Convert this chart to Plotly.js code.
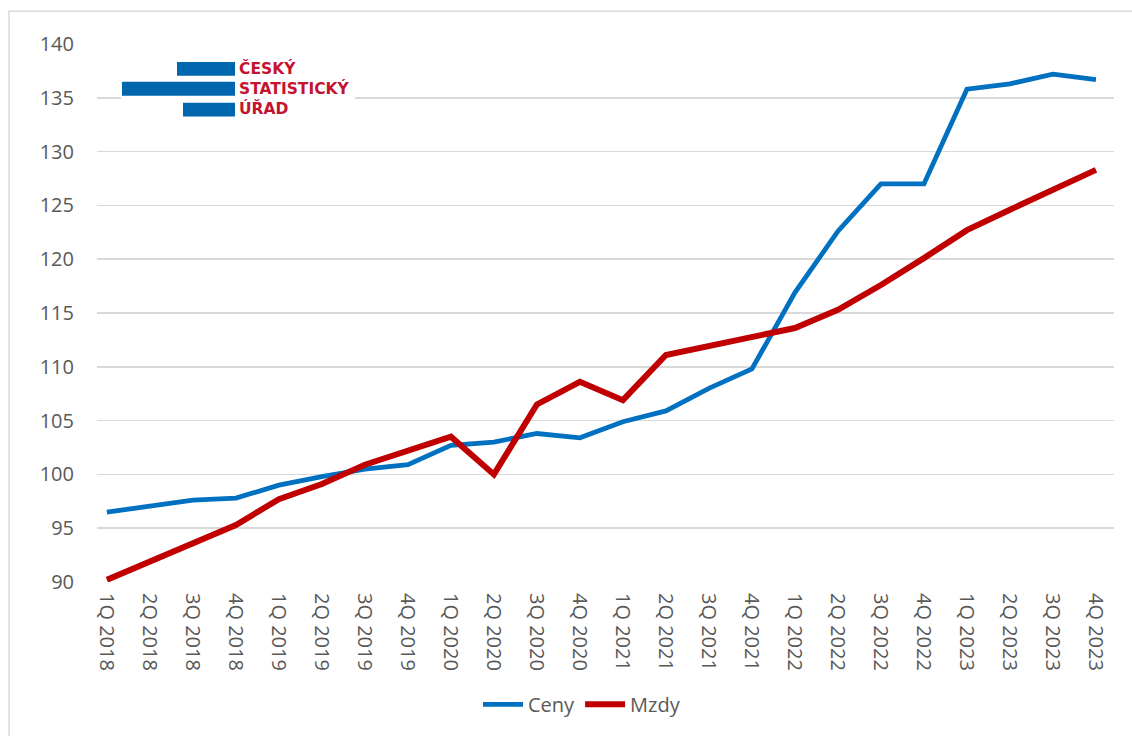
<!DOCTYPE html>
<html>
<head>
<meta charset="utf-8">
<script src="https://cdn.plot.ly/plotly-3.0.1.min.js"></script>
<style>
html,body{margin:0;padding:0;background:#fff;}
#chart{width:1132px;height:736px;}
</style>
</head>
<body>
<div id="chart"></div>
<script>
// ---- data ----
const categories = ["1Q 2018","2Q 2018","3Q 2018","4Q 2018",
  "1Q 2019","2Q 2019","3Q 2019","4Q 2019",
  "1Q 2020","2Q 2020","3Q 2020","4Q 2020",
  "1Q 2021","2Q 2021","3Q 2021","4Q 2021",
  "1Q 2022","2Q 2022","3Q 2022","4Q 2022",
  "1Q 2023","2Q 2023","3Q 2023","4Q 2023"];
const ceny = [96.5, 97.1, 97.6, 97.8, 99.0, 99.8, 100.5, 100.9,
  102.7, 103.0, 103.8, 103.4, 104.9, 105.9, 108.0, 109.8,
  116.9, 122.6, 127.0, 127.0, 135.8, 136.3, 137.2, 136.7];
const mzdy = [90.2, 91.9, 93.7, 95.3, 97.7, 99.1, 100.9, 102.2,
  103.5, 100.0, 106.5, 108.6, 106.9, 111.1, 111.9, 112.7,
  113.6, 115.3, 117.6, 120.1, 122.7, 124.6, 126.4, 128.3];
const seriesNames = ["Ceny", "Mzdy"];
const yTicks = [90, 95, 100, 105, 110, 115, 120, 125, 130, 135, 140];
const logoLines = ["ČESKÝ", "STATISTICKÝ", "ÚŘAD"];

// ---- layout geometry ----
const W = 1132, H = 736;
const M = {l: 97, r: 18, t: 44, b: 151};
const PW = W - M.l - M.r, PH = H - M.t - M.b;
const px = x => (x - M.l) / PW;
const py = y => (H - M.b - y) / PH;

const FONT = "Open Sans, Noto Sans, sans-serif";
const GREY = "#595959";
const idx = categories.map((_, i) => i);

const traces = [
  {x: idx, y: ceny, name: seriesNames[0], type: "scatter", mode: "lines",
   line: {color: "#0070C0", width: 4.8}},
  {x: idx, y: mzdy, name: seriesNames[1], type: "scatter", mode: "lines",
   line: {color: "#C00000", width: 6}}
];

const shapes = [
  // outer chart border
  {type: "rect", xref: "paper", yref: "paper", x0: px(9), x1: px(1145), y0: py(11), y1: py(750),
   line: {color: "#D9D9D9", width: 1.5}, fillcolor: "rgba(0,0,0,0)", layer: "below"},
  // logo background
  {type: "rect", xref: "paper", yref: "paper", x0: px(121), x1: px(355), y0: py(55), y1: py(124),
   line: {width: 0}, fillcolor: "#ffffff", layer: "above"},
  // logo bars
  {type: "rect", xref: "paper", yref: "paper", x0: px(177), x1: px(235), y0: py(62), y1: py(76),
   line: {width: 0}, fillcolor: "#0066AE", layer: "above"},
  {type: "rect", xref: "paper", yref: "paper", x0: px(122), x1: px(235), y0: py(82), y1: py(96),
   line: {width: 0}, fillcolor: "#0066AE", layer: "above"},
  {type: "rect", xref: "paper", yref: "paper", x0: px(183), x1: px(235), y0: py(103), y1: py(117),
   line: {width: 0}, fillcolor: "#0066AE", layer: "above"}
];

const annotations = [{
  text: "<b>" + logoLines.join("<br>") + "</b>", xref: "paper", yref: "paper",
  x: px(237), y: py(89), xanchor: "left", yanchor: "middle", align: "left", showarrow: false,
  font: {family: "DejaVu Sans, sans-serif", size: 15.5, color: "#C4122F"}
}];

const layout = {
  width: W, height: H,
  margin: M,
  paper_bgcolor: "#ffffff", plot_bgcolor: "#ffffff",
  showlegend: true,
  legend: {orientation: "h", x: px(582), xanchor: "center", y: py(708), yanchor: "middle",
    font: {family: FONT, size: 20, color: GREY}, itemwidth: 40},
  xaxis: {
    range: [-0.23, 23.42], tickmode: "array", tickvals: idx, ticktext: categories,
    tickangle: 90, showgrid: false, zeroline: false, showline: false, ticks: "",
    tickfont: {family: FONT, size: 20, color: GREY}, ticklabelstandoff: 10,
    automargin: false, fixedrange: true
  },
  yaxis: {
    range: [90, 140], tickmode: "array", tickvals: yTicks,
    showgrid: true, gridcolor: "#D9D9D9", gridwidth: 1.5, zeroline: false, showline: false,
    ticks: "", tickfont: {family: FONT, size: 20, color: GREY}, ticklabelstandoff: 22,
    automargin: false, fixedrange: true
  },
  shapes: shapes,
  annotations: annotations
};

Plotly.newPlot("chart", traces, layout, {displayModeBar: false, staticPlot: true});
</script>
</body>
</html>
